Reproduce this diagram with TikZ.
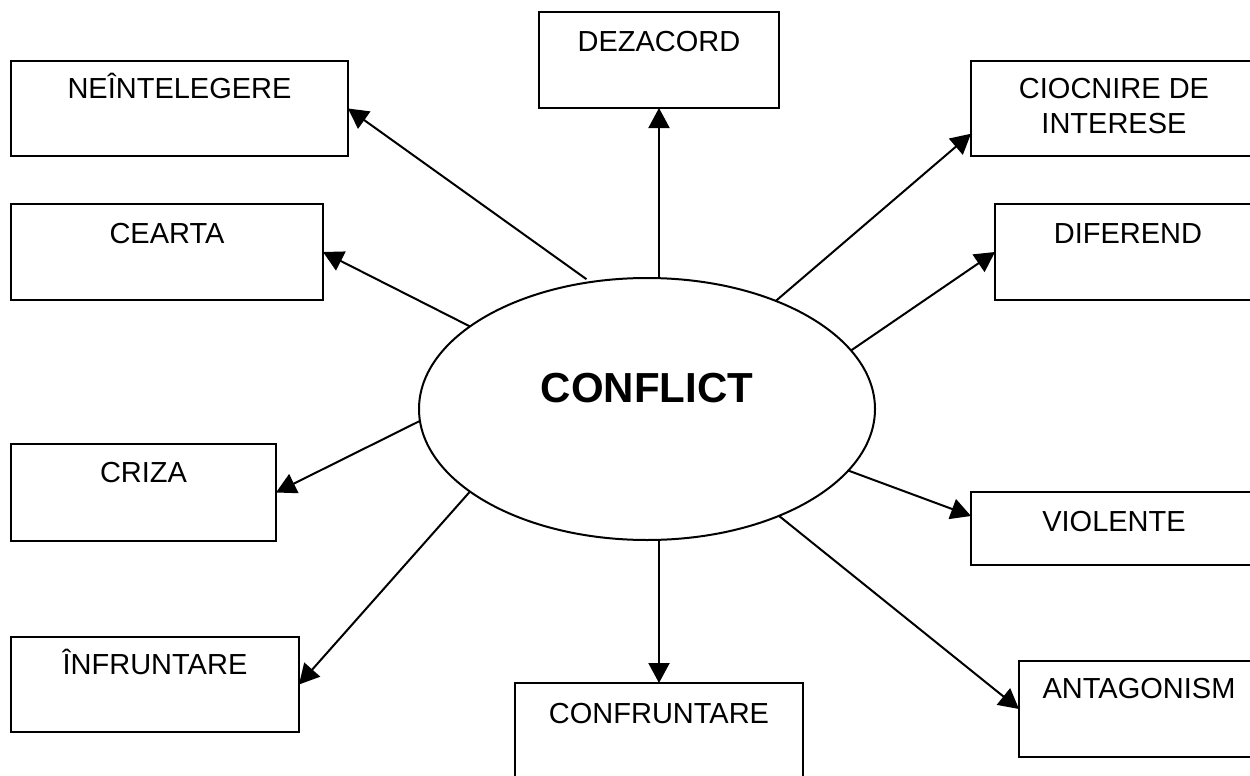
\documentclass[tikz,border=0pt]{standalone}
\usepackage{fontspec}
\setmainfont{Liberation Sans}
\usetikzlibrary{shapes.geometric,arrows.meta}
\begin{document}
\begin{tikzpicture}[x=1pt,y=-1pt,
  box/.style={draw, line width=2.2pt, rectangle, inner sep=0pt, outer sep=0pt},
  lbl/.style={font=\fontsize{29}{35}\selectfont, inner sep=0pt, anchor=base},
  link/.style={line width=2pt, -{Triangle[length=20pt,width=21pt]}}]
\fill[white] (0,0) rectangle (1250,776);
\clip (0,0) rectangle (1250,776);

% central ellipse
\node[ellipse, draw, line width=2pt, minimum width=456pt, minimum height=262pt,
      inner sep=0pt, outer sep=0pt] (e) at (647,409) {};
\node[font=\fontsize{42}{48}\selectfont\bfseries, inner sep=0pt, anchor=base] (tc) at (647,402) {CONFLICT};

% surrounding boxes
\node[box, minimum width=337pt, minimum height=95pt] (ne) at (179.5,108.5) {};
\node[box, minimum width=312pt, minimum height=96pt] (ce) at (167,252) {};
\node[box, minimum width=265pt, minimum height=97pt] (cr) at (143.5,492.5) {};
\node[box, minimum width=288pt, minimum height=95pt] (in) at (155,684.5) {};
\node[box, minimum width=240pt, minimum height=96pt] (dz) at (659,60) {};
\node[box, minimum width=288pt, minimum height=96pt] (cf) at (659,731) {};
\node[box, minimum width=286pt, minimum height=95pt] (ci) at (1114,108.5) {};
\node[box, minimum width=266pt, minimum height=96pt] (di) at (1128,252) {};
\node[box, minimum width=286pt, minimum height=73pt] (vi) at (1114,528.5) {};
\node[box, minimum width=240pt, minimum height=96pt] (an) at (1139,709) {};

% box labels
\node[lbl] (tne) at ([yshift=-37pt]ne.north) {NEÎNTELEGERE};
\node[lbl] (tce) at ([yshift=-39pt]ce.north) {CEARTA};
\node[lbl] (tcr) at ([yshift=-38pt]cr.north) {CRIZA};
\node[lbl] (tin) at ([yshift=-37pt]in.north) {ÎNFRUNTARE};
\node[lbl] (tdz) at ([yshift=-40pt]dz.north) {DEZACORD};
\node[lbl] (tcf) at ([yshift=-40pt]cf.north) {CONFRUNTARE};
\node[lbl] (tci1) at ([yshift=-37pt]ci.north) {CIOCNIRE DE};
\node[lbl] (tci2) at ([yshift=-72pt]ci.north) {INTERESE};
\node[lbl] (tdi) at ([yshift=-39pt]di.north) {DIFEREND};
\node[lbl] (tvi) at ([yshift=-39pt]vi.north) {VIOLENTE};
\node[lbl] (tan) at ([yshift=-37pt]an.north) {ANTAGONISM};

% connectors
\draw[link, shorten <=5pt] (e.114) -- (ne.east);
\draw[link] (e.155) -- (ce.east);
\draw[link] (e.183) -- (cr.east);
\draw[link] (e.205) -- (in.east);
\draw[link] (dz.south |- e.north) -- (dz.south);
\draw[link] (cf.north |- e.south) -- (cf.north);
\draw[link] (e.40) -- (ci.190);
\draw[link] (e.16.4) -- (di.west);
\draw[link] (e.343.7) -- (vi.175);
\draw[link] (e.321) -- (an.west);
\end{tikzpicture}
\end{document}
